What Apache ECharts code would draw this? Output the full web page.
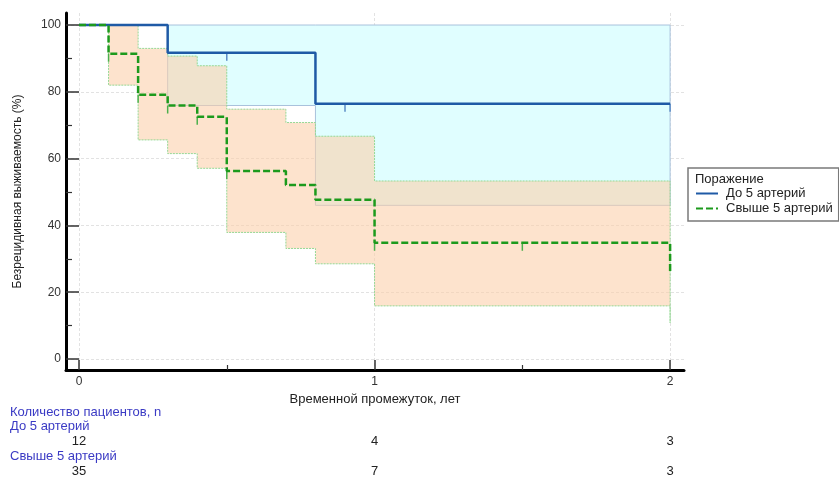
<!DOCTYPE html>
<html><head><meta charset="utf-8">
<script src="https://cdn.jsdelivr.net/npm/echarts@6/dist/echarts.min.js"></script>
<style>html,body{margin:0;padding:0;background:#fff}#c{width:839px;height:477px}</style>
</head><body><div id="c"></div>
<script>
const groups = ['До 5 артерий', 'Свыше 5 артерий'];
// Kaplan-Meier step curves (time, survival % after the step)
const blueTimes = [0, 0.3, 0.8, 2];
const blueSurv = [100, 91.7, 76.4, 76.4];
const greenTimes = [0, 0.1, 0.2, 0.3, 0.4, 0.5, 0.7, 0.8, 1.0, 2, 2];
const greenSurv = [100, 91.4, 79.1, 75.9, 72.5, 56.3, 52.1, 47.7, 34.8, 34.8, 26.1];
// censor marks
const blueCensT = [0.5, 0.9, 2];
const blueCensS = [91.7, 76.4, 76.4];
const greenCensT = [0.1, 0.2, 0.3, 0.4, 0.5, 1.0, 1.5];
const greenCensS = [91.4, 79.1, 75.9, 72.5, 56.3, 34.8, 34.8];
// confidence bands: interval bounds, upper / lower per interval
const blueBandT = [0.3, 0.8, 2];
const blueBandU = [100, 100];
const blueBandL = [75.9, 46.0];
const greenBandT = [0.1, 0.2, 0.3, 0.4, 0.5, 0.7, 0.8, 1.0, 2];
const greenBandU = [100, 93.0, 90.7, 87.8, 74.8, 70.8, 66.7, 53.3];
const greenBandL = [82.0, 65.6, 61.5, 57.1, 37.9, 33.1, 28.5, 15.9];
const greenBandEndU = 47.5;
const greenBandEndL = 10.8;
// axes
const xTicks = [0, 1, 2];
const xMinor = [0.5, 1.5];
const yTicks = [0, 20, 40, 60, 80, 100];
const yMinor = [10, 30, 50, 70, 90];
// numbers at risk
const riskTimes = [0, 1, 2];
const riskBlue = [12, 4, 3];
const riskGreen = [35, 7, 3];

const FONT = '"Liberation Sans", Arial, sans-serif';
const BLUE = '#1f5aa6';
const GREEN = '#1c9a1c';
const LBL = '#3a3ac4';

function bandPoly(T, U, L, endU, endL) {
  const up = [], lo = [];
  for (let i = 0; i < U.length; i++) {
    up.push([T[i], U[i]], [T[i + 1], U[i]]);
    lo.push([T[i], L[i]], [T[i + 1], L[i]]);
  }
  if (endU != null) up.push([T[T.length - 1], endU]);
  lo.reverse();
  if (endL != null) lo.unshift([T[T.length - 1], endL]);
  return up.concat(lo);
}
const blueBandPts = bandPoly(blueBandT, blueBandU, blueBandL);
const greenBandPts = bandPoly(greenBandT, greenBandU, greenBandL, greenBandEndU, greenBandEndL);

function bandSeries(pts, fill, stroke, dash) {
  return {
    type: 'custom', silent: true, xAxisIndex: 0, yAxisIndex: 0,
    data: [[0, 0]],
    renderItem: (params, api) => ({
      type: 'polygon',
      shape: { points: pts.map(p => api.coord(p)) },
      style: { fill: fill, stroke: stroke, lineWidth: 1, lineDash: dash }
    }),
    z: 1
  };
}
function censSeries(T, S, color, w) {
  return {
    type: 'custom', silent: true, xAxisIndex: 0, yAxisIndex: 0,
    data: T.map((t, i) => [t, S[i]]),
    renderItem: (params, api) => {
      const p = api.coord([api.value(0), api.value(1)]);
      return { type: 'line', shape: { x1: p[0], y1: p[1], x2: p[0], y2: p[1] + 8 },
        style: { stroke: color, lineWidth: w } };
    },
    z: 4
  };
}

const chart = echarts.init(document.getElementById('c'), null, { renderer: 'canvas' });
const option = {
  animation: false,
  backgroundColor: '#ffffff',
  textStyle: { fontFamily: FONT },
  grid: { left: 66, right: 155, top: 13, bottom: 107, containLabel: false, outerBoundsMode: 'none' },
  legend: {
    data: groups,
    orient: 'vertical',
    left: 688, top: 168,
    padding: [19, 6, 6, 7],
    itemGap: 2,
    itemWidth: 22, itemHeight: 12,
    borderColor: '#7a7a7a', borderWidth: 1.5, borderRadius: 0,
    backgroundColor: 'rgba(0,0,0,0)',
    itemStyle: { color: 'rgba(0,0,0,0)', opacity: 0, borderWidth: 0 },
    textStyle: { fontSize: 13, color: '#222', fontFamily: FONT, padding: [0, 0, 0, 3] },
    selectedMode: false
  },
  xAxis: [{
    type: 'value', position: 'bottom', min: -0.044, max: 2.047,
    name: 'Временной промежуток, лет', nameLocation: 'middle', nameGap: 23,
    nameTextStyle: { fontSize: 13, color: '#222', fontFamily: FONT },
    axisLine: { show: true, onZero: false, lineStyle: { color: '#000', width: 3 } },
    axisTick: { show: true, inside: true, length: 10, customValues: xTicks, lineStyle: { color: '#333', width: 1.5 } },
    axisLabel: { show: true, customValues: xTicks, margin: 6, fontSize: 12, color: '#333', fontFamily: FONT },
    splitLine: { show: true, lineStyle: { color: '#e2e2e2', type: [3, 2], width: 1 } }
  }, {
    type: 'value', position: 'bottom', min: -0.044, max: 2.047,
    axisLine: { show: false, onZero: false },
    axisTick: { show: true, inside: true, length: 5, customValues: xMinor, lineStyle: { color: '#333', width: 1.2 } },
    axisLabel: { show: false },
    splitLine: { show: false }
  }],
  yAxis: [{
    type: 'value', position: 'left', min: -3.3, max: 103.6,
    name: 'Безрецидивная выживаемость (%)', nameLocation: 'middle', nameGap: 42,
    nameTextStyle: { fontSize: 12, color: '#222', fontFamily: FONT },
    axisLine: { show: true, onZero: false, lineStyle: { color: '#000', width: 3 } },
    axisTick: { show: true, inside: true, length: 13, customValues: yTicks, lineStyle: { color: '#333', width: 1.5 } },
    axisLabel: { show: true, customValues: yTicks, margin: 5, fontSize: 12, color: '#333', fontFamily: FONT },
    splitLine: { show: true, lineStyle: { color: '#e2e2e2', type: [3, 2], width: 1 } }
  }, {
    type: 'value', position: 'left', min: -3.3, max: 103.6,
    axisLine: { show: false, onZero: false },
    axisTick: { show: true, inside: true, length: 6, customValues: yMinor, lineStyle: { color: '#333', width: 1.2 } },
    axisLabel: { show: false },
    splitLine: { show: false }
  }],
  series: [
    bandSeries(blueBandPts, '#e0feff', '#a9c2dc', null),
    bandSeries(greenBandPts, 'rgba(251,206,168,0.58)', '#95d895', [2, 1]),
    {
      name: groups[0], type: 'line', step: 'end', xAxisIndex: 0, yAxisIndex: 0,
      symbol: 'none', showSymbol: false, z: 5,
      data: blueTimes.map((t, i) => [t, blueSurv[i]]),
      lineStyle: { color: BLUE, width: 2.5 },
      itemStyle: { color: BLUE }
    },
    censSeries(blueCensT, blueCensS, '#5b8cc6', 1.5),
    {
      name: groups[1], type: 'line', step: 'end', xAxisIndex: 0, yAxisIndex: 0,
      symbol: 'none', showSymbol: false, z: 6,
      data: greenTimes.map((t, i) => [t, greenSurv[i]]),
      lineStyle: { color: GREEN, width: 2.5, type: [7, 3] },
      itemStyle: { color: GREEN }
    },
    censSeries(greenCensT, greenCensS, '#4cb04c', 1.5)
  ]
};
chart.setOption(option);

const xs = riskTimes.map(t => chart.convertToPixel({ xAxisIndex: 0 }, t));
const g = [];
const tStyle = (txt, col, align) => ({ text: txt, fill: col, font: '13px ' + FONT, textAlign: align, textVerticalAlign: 'middle' });
g.push({ type: 'text', z: 100, x: 695, y: 179, style: tStyle('Поражение', '#222', 'left') });
g.push({ type: 'text', z: 100, x: 10, y: 412, style: tStyle('Количество пациентов, n', LBL, 'left') });
g.push({ type: 'text', z: 100, x: 10, y: 426, style: tStyle(groups[0], LBL, 'left') });
g.push({ type: 'text', z: 100, x: 10, y: 456, style: tStyle(groups[1], LBL, 'left') });
riskBlue.forEach((v, i) => g.push({ type: 'text', z: 100, x: xs[i], y: 441, style: tStyle(String(v), '#222', 'center') }));
riskGreen.forEach((v, i) => g.push({ type: 'text', z: 100, x: xs[i], y: 471, style: tStyle(String(v), '#222', 'center') }));
chart.setOption({ graphic: g });
</script>
</body></html>
